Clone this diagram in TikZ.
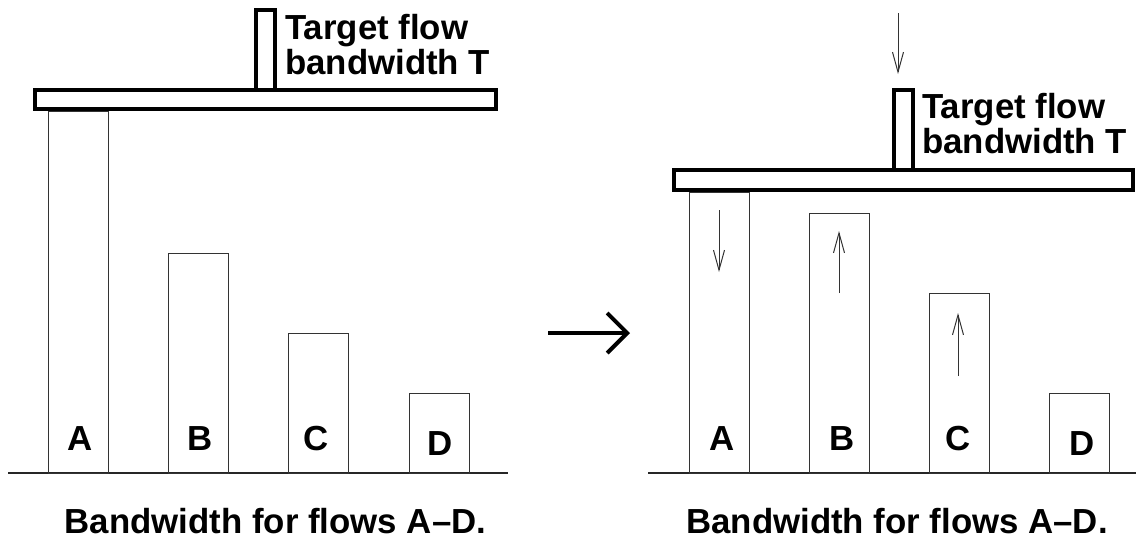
\documentclass[tikz,border=0pt]{standalone}
\usepackage{fontspec}
\setmainfont{Liberation Sans}
\usetikzlibrary{arrows.meta}
\begin{document}
\begin{tikzpicture}[x=1pt,y=-1pt,
  lbl/.style={font=\fontsize{34.8}{35}\bfseries\selectfont, inner sep=0pt},
  bar/.style={draw=black!80, line width=1pt},
  plank/.style={draw=black, line width=4pt},
  ground/.style={draw=black!85, line width=1.2pt},
  move/.style={draw=black!80, line width=1pt, -{Straight Barb[length=20pt,width=11pt]}},
  bigarrow/.style={draw=black, line width=4pt, -{Straight Barb[length=20pt,width=40pt,line width=4pt]}}]
\useasboundingbox (0,0) rectangle (1136,539);

% ---------- before: flows A-D and the target flow on top ----------
\draw[ground] (8,473) coordinate (g1a) -- (508,473) coordinate (g1b);
\draw[bar] (48,473) rectangle (108,111);
\draw[bar] (168,473) rectangle (228,253);
\draw[bar] (288,473) rectangle (348,333);
\draw[bar] (409,473) rectangle (469,393);
\draw[plank] (35,90) rectangle (496,109);
\draw[plank] (256,10) rectangle (275,90);
\node[lbl, anchor=north west, align=left] (t1) at (285,14) {Target flow\\bandwidth T};
\node[lbl, anchor=base] (a1) at (80,450) {A};
\node[lbl, anchor=base] (b1) at (200,450) {B};
\node[lbl, anchor=base] (c1) at (316,450) {C};
\node[lbl, anchor=base] (d1) at (440,455) {D};
\node[lbl, anchor=base] (cap1) at (275.5,533) {Bandwidth for flows A--D.};

% ---------- transition ----------
\coordinate (m1) at (548,333);
\coordinate (m2) at (630,333);
\draw[bigarrow] (m1) -- (m2);

% ---------- after: target flow pushed in, flows rebalanced ----------
\draw[ground] (648,473) coordinate (g2a) -- (1136,473) coordinate (g2b);
\draw[bar] (689,473) rectangle (749,192);
\draw[bar] (809,473) rectangle (869,213);
\draw[bar] (929,473) rectangle (989,293);
\draw[bar] (1049,473) rectangle (1109,393);
\draw[plank] (674,170) rectangle (1133,190);
\draw[plank] (894,90) rectangle (913,170);
\node[lbl, anchor=north west, align=left] (t2) at (922,93) {Target flow\\bandwidth T};
\node[lbl, anchor=base] (a2) at (722,450) {A};
\node[lbl, anchor=base] (b2) at (842,450) {B};
\node[lbl, anchor=base] (c2) at (958,450) {C};
\node[lbl, anchor=base] (d2) at (1082,455) {D};
\node[lbl, anchor=base] (cap2) at (897,533) {Bandwidth for flows A--D.};

% movement of the bandwidth shares
\coordinate (ts) at (898,13);  \coordinate (te) at (898,74);
\coordinate (as) at (719,210); \coordinate (ae) at (719,272);
\coordinate (bs) at (839,293); \coordinate (be) at (839,231);
\coordinate (cs) at (958,376); \coordinate (ce) at (958,313);
\draw[move] (ts) -- (te);
\draw[move] (as) -- (ae);
\draw[move] (bs) -- (be);
\draw[move] (cs) -- (ce);
\end{tikzpicture}
\end{document}
